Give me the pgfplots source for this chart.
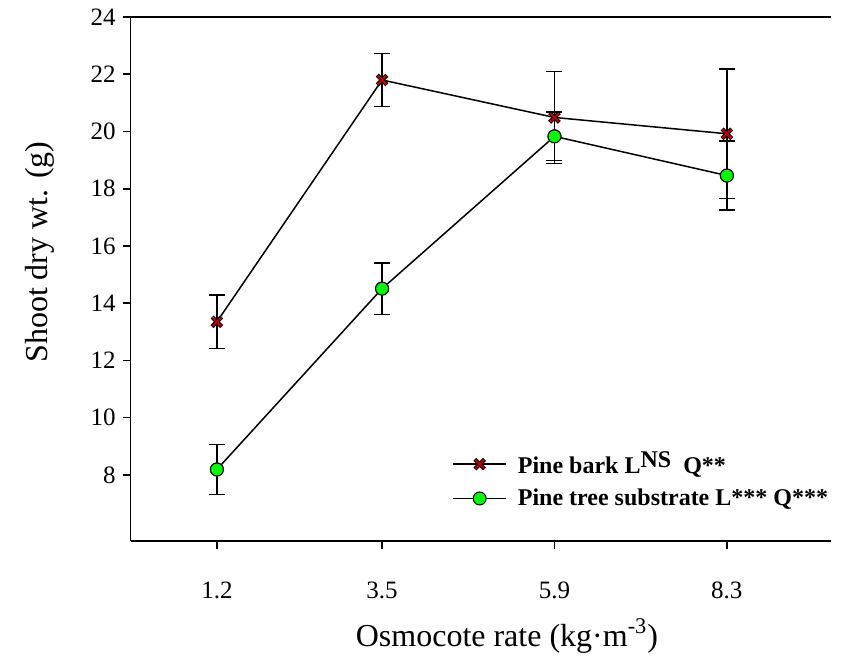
\documentclass[border=0pt]{standalone}
\usepackage{fontspec}
\setmainfont{Liberation Serif}
\usepackage{pgfplots}
\pgfplotsset{compat=1.18}
\definecolor{barkred}{RGB}{190,0,0}
\definecolor{treegreen}{RGB}{0,250,0}
\pgfplotstableread{
x   y     e
1.2 13.35 0.93
3.5 21.80 0.93
5.9 20.49 1.60
8.3 19.92 2.27
}\barkdata
\pgfplotstableread{
x   y     e
1.2 8.19  0.87
3.5 14.51 0.90
5.9 19.83 0.85
8.3 18.46 1.20
}\treedata
\begin{document}
\begin{tikzpicture}
\begin{axis}[
    scale only axis,
    width=350.15pt, height=261.85pt,
    xmin=0, xmax=9.75, ymin=5.7, ymax=24,
    clip=false,
    axis x line*=box, axis y line*=left,
    axis line style={line width=0.8pt},
    xtick={1.2,3.5,5.9,8.3},
    ytick={8,10,...,24},
    xtick pos=left, ytick pos=left,
    tick align=outside,
    major tick length=4pt,
    tick style={line width=0.8pt, black},
    /pgf/number format/assume math mode=true,
    tick label style={font=\fontsize{12.5}{14}\selectfont},
    xticklabel style={/pgf/number format/fixed, /pgf/number format/precision=1,
        /pgf/number format/fixed zerofill, yshift=-13pt},
    xlabel={Osmocote rate (kg·m\textsuperscript{-3})},
    ylabel={Shoot dry wt. (g)},
    label style={font=\fontsize{16}{19}\selectfont},
    xlabel style={at={(axis description cs:0.5373,-0.201)}, anchor=base},
    ylabel style={at={(axis description cs:-0.1295,0.5513)}, anchor=center},
    legend cell align=left,
    legend style={draw=none, fill=none, inner sep=0pt,
        at={(axis description cs:0.4588,0.116)}, anchor=west,
        font=\fontsize{12}{14}\selectfont\bfseries, row sep=2pt,
        nodes={inner xsep=5.5pt}},
    legend image code/.code={\draw[mark repeat=2,mark phase=2,#1]
        plot coordinates {(0pt,0pt) (13.25pt,0pt) (26.5pt,0pt)};},
]
% pine bark: line and error bars
\addplot[black, line width=0.75pt, mark=x, mark size=3.4pt,
    mark options={draw=black, line width=2.1pt},
    legend image code/.code={
        \draw[black, line width=0.75pt, mark repeat=2, mark phase=2,
            mark=x, mark size=3.4pt, mark options={line width=2.1pt}]
            plot coordinates {(0pt,0pt) (13.25pt,0pt) (26.5pt,0pt)};
        \draw[draw=none, mark=x, mark size=3.1pt,
            mark options={draw=barkred, line width=1.0pt}]
            plot coordinates {(13.25pt,0pt)};},
    error bars/.cd, y dir=both, y explicit,
    error bar style={black, line width=0.75pt},
    error mark options={rotate=90, mark size=4pt, line width=0.75pt, black}]
    table[x=x, y=y, y error=e] {\barkdata};
\addlegendentry{Pine bark L\raisebox{0.55ex}{NS}\ \ Q**}
% red core of the crosses
\addplot[only marks, mark=x, mark size=3.1pt,
    mark options={draw=barkred, line width=1.0pt}, forget plot]
    table[x=x, y=y] {\barkdata};
% pine tree substrate
\addplot[black, line width=0.75pt, mark=*, mark size=3.25pt,
    mark options={draw=black, line width=0.5pt, fill=treegreen},
    error bars/.cd, y dir=both, y explicit,
    error bar style={black, line width=0.75pt},
    error mark options={rotate=90, mark size=4pt, line width=0.75pt, black}]
    table[x=x, y=y, y error=e] {\treedata};
\addlegendentry{Pine tree substrate L*** Q***}
% circles on top of the error bars
\addplot[only marks, mark=*, mark size=3.25pt,
    mark options={draw=black, line width=0.5pt, fill=treegreen}, forget plot]
    table[x=x, y=y] {\treedata};
\coordinate (bbl) at (rel axis cs:-0.1866,-0.2317);
\coordinate (btr) at (rel axis cs:1.0171,1.0325);
\end{axis}
\pgfresetboundingbox
\path[use as bounding box] (bbl) rectangle (btr);
\end{tikzpicture}
\end{document}
